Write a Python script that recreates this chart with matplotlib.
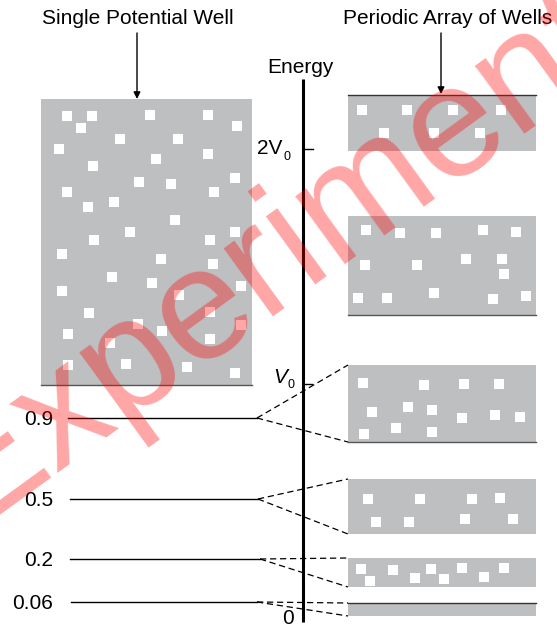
import matplotlib
matplotlib.use("Agg")
import matplotlib.pyplot as plt

plt.rcParams["font.family"] = ["Liberation Sans", "DejaVu Sans"]

# schematic coordinates (pixels from top-left of the drawing)
GRAY = "#bebfc1"

# single well box
well_x = (41, 252)
well_y = (99, 385)
well_squares_x = [67, 92, 150, 208, 81, 237, 120, 178, 59, 208, 156, 93, 139, 171, 235,
                  67, 214, 88, 114, 175, 130, 94, 210, 235, 62, 161, 213, 112, 152, 62,
                  241, 179, 89, 210, 138, 162, 241, 68, 110, 210, 68, 126, 187, 235]
well_squares_y = [116, 116, 115, 115, 128, 126, 139, 139, 149, 154, 159, 166, 182, 184, 178,
                  192, 192, 207, 202, 220, 232, 240, 240, 232, 254, 259, 264, 277, 283, 291,
                  286, 295, 313, 312, 324, 331, 325, 334, 343, 339, 365, 364, 367, 373]

# energy levels of the single well
level_labels = ["0.9", "0.5", "0.2", "0.06"]
level_y = [418, 499, 559, 602]
level_x0 = [68, 70, 70, 71]
level_x1 = [257, 258, 260, 257]

# bands of the periodic array (top, bottom)
band_x = (348, 536)
band_top = [95, 216, 365, 479, 558, 603]
band_bot = [151, 315, 442, 534, 587, 616]
band_edge = [(True, False), (False, True), (False, True), (False, False), (False, False), (True, False)]

band_squares = [
    ([362, 407, 453, 501, 384, 434, 480],
     [110, 110, 110, 110, 133, 133, 133]),
    ([366, 400, 436, 483, 516, 365, 417, 466, 502, 504, 358, 387, 434, 493, 526],
     [230, 233, 233, 230, 232, 265, 265, 259, 259, 274, 298, 298, 293, 299, 296]),
    ([363, 424, 464, 499, 372, 408, 432, 462, 495, 520, 364, 396, 432],
     [383, 385, 384, 384, 412, 407, 410, 418, 415, 417, 434, 428, 432]),
    ([368, 420, 472, 500, 376, 409, 465, 513],
     [499, 499, 499, 498, 522, 522, 519, 519]),
    ([361, 370, 393, 415, 431, 444, 462, 484, 504],
     [569, 581, 570, 578, 569, 579, 568, 577, 568]),
]

fig = plt.figure(figsize=(5.57, 6.28), dpi=100)
ax = fig.add_axes([0, 0, 1, 1])
ax.set_xlim(0, 557)
ax.set_ylim(628, 0)
ax.axis("off")

# single potential well
ax.add_patch(plt.Rectangle((well_x[0], well_y[0]), well_x[1] - well_x[0], well_y[1] - well_y[0],
                           facecolor=GRAY, edgecolor="none"))
ax.plot(well_x, [well_y[1]] * 2, color="#555555", lw=1)
ax.scatter(well_squares_x, well_squares_y, marker="s", s=42, color="white", linewidths=0)

# bands
for i in range(len(band_top)):
    ax.add_patch(plt.Rectangle((band_x[0], band_top[i]), band_x[1] - band_x[0],
                               band_bot[i] - band_top[i], facecolor=GRAY, edgecolor="none"))
    if band_edge[i][0]:
        ax.plot(band_x, [band_top[i]] * 2, color="#333333", lw=1)
    if band_edge[i][1]:
        ax.plot(band_x, [band_bot[i]] * 2, color="#555555", lw=1)
for xs, ys in band_squares:
    ax.scatter(xs, ys, marker="s", s=42, color="white", linewidths=0)

# levels and dashed connectors
for i in range(len(level_y)):
    ax.plot([level_x0[i], level_x1[i]], [level_y[i]] * 2, color="black", lw=1)
    ax.text(53, level_y[i] + 7, level_labels[i], ha="right", va="baseline", fontsize=15)
    ax.plot([level_x1[i], band_x[0]], [level_y[i], band_top[i + 2]], color="black",
            lw=0.9, dashes=(5, 3))
    ax.plot([level_x1[i], band_x[0]], [level_y[i], band_bot[i + 2]], color="black",
            lw=0.9, dashes=(5, 3))

# energy axis
ax.plot([303, 303], [79, 622], color="black", lw=2.2, solid_capstyle="butt")
ax.plot([303, 313], [148.5, 148.5], color="black", lw=1)
ax.plot([303, 312], [384, 384], color="black", lw=1)
ax.text(300, 73, "Energy", ha="center", va="baseline", fontsize=15)
ax.text(282, 154, "2V", ha="right", va="baseline", fontsize=15)
ax.text(283, 160, "0", ha="left", va="baseline", fontsize=9)
ax.text(287, 383, "V", ha="right", va="baseline", fontsize=15, style="italic")
ax.text(287, 388, "0", ha="left", va="baseline", fontsize=9)
ax.text(288, 624, "0", ha="center", va="baseline", fontsize=15)

# titles with arrows
ax.text(138, 24, "Single Potential Well", ha="center", va="baseline", fontsize=15)
ax.text(448, 24, "Periodic Array of Wells", ha="center", va="baseline", fontsize=15)
arrow = dict(arrowstyle="-|>", color="black", lw=1, mutation_scale=10, shrinkA=0, shrinkB=0)
ax.annotate("", xy=(137, 99), xytext=(137, 33), arrowprops=arrow)
ax.annotate("", xy=(441, 94), xytext=(441, 33), arrowprops=arrow)

# watermark
ax.text(271, 257, "Experiment", ha="center", va="center", rotation=36,
        rotation_mode="anchor", fontsize=115, color="red", alpha=0.35, zorder=10)

fig.savefig("out.png", dpi=100)
